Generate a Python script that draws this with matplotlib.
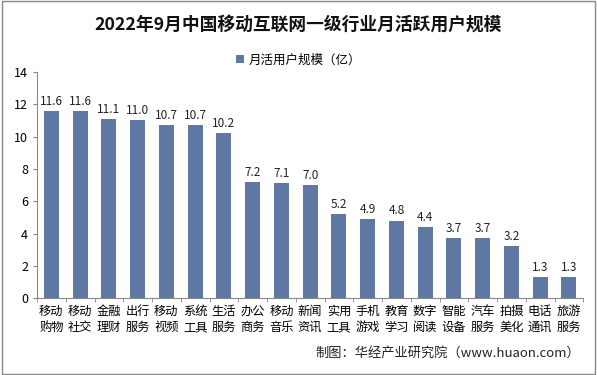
import numpy as np
import matplotlib.pyplot as plt

plt.rcParams['font.family'] = ['Noto Sans CJK SC', 'DejaVu Sans']

# Data
categories = ['移动\n购物', '移动\n社交', '金融\n理财', '出行\n服务', '移动\n视频', '系统\n工具',
              '生活\n服务', '办公\n商务', '移动\n音乐', '新闻\n资讯', '实用\n工具', '手机\n游戏',
              '教育\n学习', '数字\n阅读', '智能\n设备', '汽车\n服务', '拍摄\n美化', '电话\n通讯',
              '旅游\n服务']
users = [11.6, 11.6, 11.1, 11.0, 10.7, 10.7, 10.2, 7.2, 7.1, 7.0, 5.2, 4.9, 4.8, 4.4,
         3.7, 3.7, 3.2, 1.3, 1.3]
series_name = '月活用户规模（亿）'

barColor = '#5f78a3'

myFig = plt.figure(figsize=(5.97, 3.75), dpi=100)
ax = myFig.add_axes([0.062, 0.205, 0.915, 0.603])

x = np.arange(len(categories))
bars = ax.bar(x, users, width=0.52, color=barColor, label=series_name)

for xi, v in zip(x, users):
    ax.text(xi, v + 0.2, f'{v:.1f}', ha='center', va='bottom', fontsize=8.5, color='#222222')

ax.set_xlim(-0.5, len(categories) - 0.5)
ax.set_ylim(0, 14)
ax.set_yticks(range(0, 15, 2))
ax.set_xticks(x)
ax.set_xticklabels(categories, fontsize=8.8, linespacing=1.3)
ax.set_xticks(np.arange(-0.5, len(categories), 1), minor=True)
ax.tick_params(axis='x', which='major', length=0, pad=5)
ax.tick_params(axis='x', which='minor', length=3, color='#888888')
ax.tick_params(axis='y', labelsize=9, length=3, color='#888888')

for side in ['top', 'right']:
    ax.spines[side].set_visible(False)
ax.spines['left'].set_color('#888888')
ax.spines['bottom'].set_color('#888888')

myFig.text(0.5, 0.935, '2022年9月中国移动互联网一级行业月活跃用户规模', ha='center', va='center',
           fontsize=12.8, fontweight='bold', color='#111111')

ax.legend(loc='center', bbox_to_anchor=(0.5, 0.84), bbox_transform=myFig.transFigure,
          frameon=False, fontsize=9, handlelength=0.6, handleheight=0.6, handletextpad=0.4)

myFig.text(0.972, 0.058, '制图：华经产业研究院（www.huaon.com）', ha='right', va='center',
           fontsize=9.5, color='#222222')

# outer frame
myFig.patches.append(plt.Rectangle((0.003, 0.003), 0.994, 0.994, transform=myFig.transFigure,
                                   fill=False, edgecolor='#888888', linewidth=1))

plt.savefig('out.png', dpi=100)
